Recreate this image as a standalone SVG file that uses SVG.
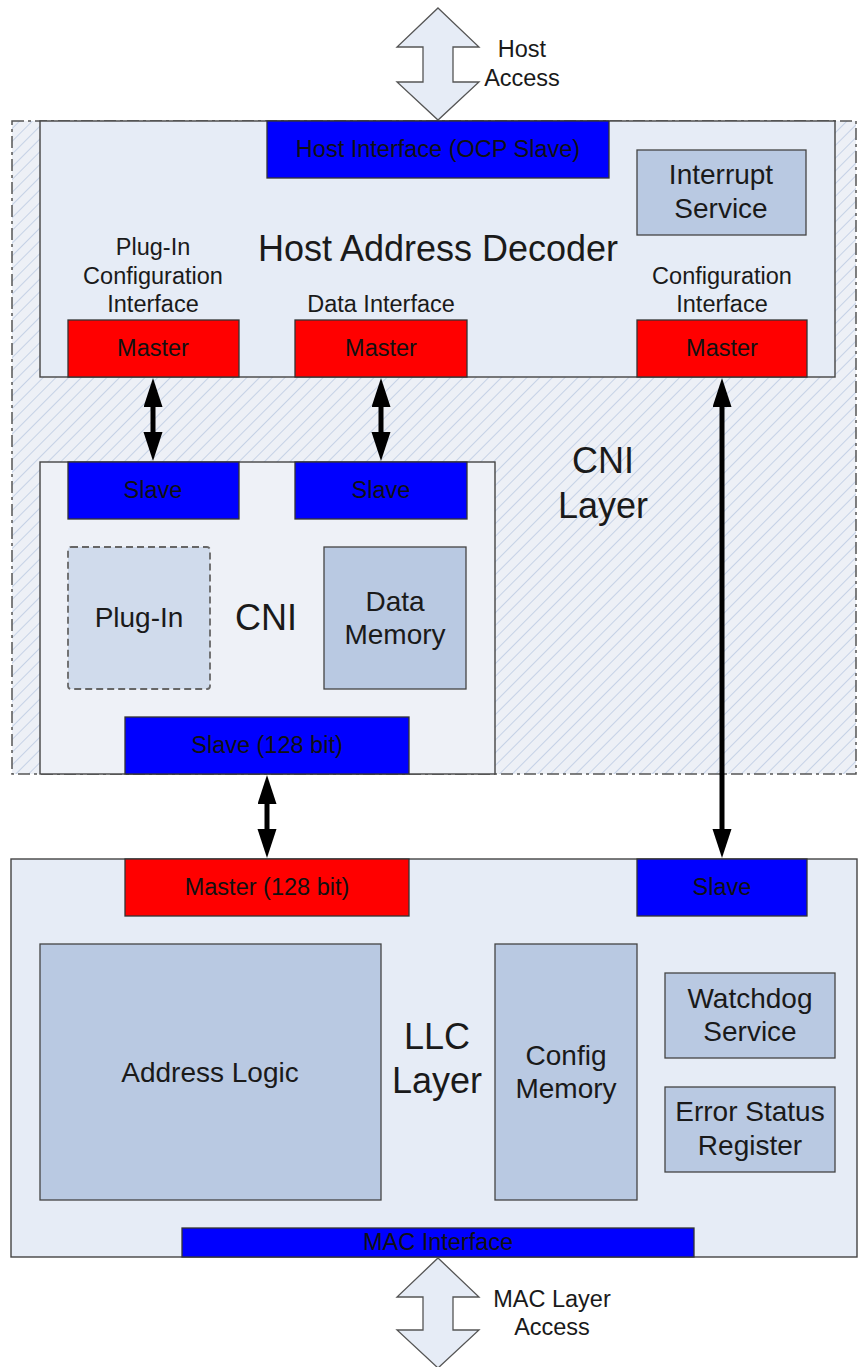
<svg xmlns="http://www.w3.org/2000/svg" width="858" height="1367" viewBox="0 0 858 1367">
  <style>
    text { font-family: "Liberation Sans", Arial, sans-serif; fill: #1a1a1a; text-anchor: middle; dominant-baseline: central; }
    .lbl { font-size: 23.5px; }
    .big { font-size: 36px; }
    .mid { font-size: 28px; }
    .port { font-size: 23.5px; fill: #111; }
    .master { fill: #ff0000; stroke: #333; stroke-width: 1.3; }
    .slave { fill: #0000ff; stroke: #333; stroke-width: 1.3; }
    .frame { fill: #e6ecf6; stroke: #444; stroke-width: 1.4; }
    .inner { fill: #b9c9e2; stroke: #444; stroke-width: 1.3; }
    .cnibox { fill: #eef1f7; stroke: #444; stroke-width: 1.4; }
    .block { fill: #e6ecf6; stroke: #555; stroke-width: 1.3; }
    .link { stroke: #000; stroke-width: 5; fill: none; marker-start: url(#head); marker-end: url(#head); }
  </style>
  <defs>
    <pattern id="hatch" patternUnits="userSpaceOnUse" width="9" height="9" patternTransform="rotate(45)">
      <rect width="9" height="9" fill="#edf0f6"/>
      <line x1="0" y1="0" x2="0" y2="9" stroke="#bccbe3" stroke-width="1.6"/>
    </pattern>
    <marker id="head" markerUnits="userSpaceOnUse" markerWidth="30" markerHeight="20" refX="0" refY="9.5" orient="auto-start-reverse">
      <path d="M0,0 L29,9.5 L0,19 z" fill="#000"/>
    </marker>
  </defs>

  <!-- host access block arrow -->
  <g id="host-access">
    <polygon class="block" points="438,8 479,47 453,47 453,82 479,82 438,120 397,82 423,82 423,47 397,47"/>
    <text class="lbl" x="522" y="49">Host</text>
    <text class="lbl" x="522" y="78">Access</text>
  </g>

  <!-- CNI layer (hatched region) -->
  <g id="cni-layer">
    <rect x="12" y="121" width="844" height="653" fill="url(#hatch)" stroke="#555" stroke-width="1.5" stroke-dasharray="12,4,3,4"/>
    <text class="big" x="603" y="460">CNI</text>
    <text class="big" x="603" y="505">Layer</text>
  </g>

  <!-- host address decoder -->
  <g id="host-address-decoder">
    <rect class="frame" x="40" y="121" width="795" height="256"/>
    <text class="big" x="438" y="248">Host Address Decoder</text>
    <text class="lbl" x="153" y="247">Plug-In</text>
    <text class="lbl" x="153" y="276">Configuration</text>
    <text class="lbl" x="153" y="304">Interface</text>
    <text class="lbl" x="381" y="304">Data Interface</text>
    <text class="lbl" x="722" y="276">Configuration</text>
    <text class="lbl" x="722" y="304">Interface</text>
  </g>
  <g id="host-interface">
    <rect class="slave" x="267" y="121" width="342" height="57"/>
    <text class="port" x="438" y="149">Host Interface (OCP Slave)</text>
  </g>
  <g id="interrupt-service">
    <rect class="inner" x="637" y="150" width="169" height="85"/>
    <text class="mid" x="721" y="174">Interrupt</text>
    <text class="mid" x="721" y="208">Service</text>
  </g>
  <g id="plugin-config-master">
    <rect class="master" x="68" y="320" width="171" height="57"/>
    <text class="port" x="153" y="348">Master</text>
  </g>
  <g id="data-master">
    <rect class="master" x="295" y="320" width="172" height="57"/>
    <text class="port" x="381" y="348">Master</text>
  </g>
  <g id="config-master">
    <rect class="master" x="637" y="320" width="170" height="57"/>
    <text class="port" x="722" y="348">Master</text>
  </g>

  <!-- CNI -->
  <g id="cni">
    <rect class="cnibox" x="40" y="462" width="455" height="312"/>
    <text class="big" x="266" y="617">CNI</text>
  </g>
  <g id="plugin-slave">
    <rect class="slave" x="68" y="462" width="171" height="57"/>
    <text class="port" x="153" y="490">Slave</text>
  </g>
  <g id="data-slave">
    <rect class="slave" x="295" y="462" width="172" height="57"/>
    <text class="port" x="381" y="490">Slave</text>
  </g>
  <g id="plugin">
    <rect x="68" y="547" width="142" height="142" rx="3" fill="#d0dbec" stroke="#666" stroke-width="1.8" stroke-dasharray="7,4"/>
    <text class="mid" x="139" y="617">Plug-In</text>
  </g>
  <g id="data-memory">
    <rect class="inner" x="324" y="547" width="142" height="142"/>
    <text class="mid" x="395" y="601">Data</text>
    <text class="mid" x="395" y="634">Memory</text>
  </g>
  <g id="cni-slave-128">
    <rect class="slave" x="125" y="717" width="284" height="57"/>
    <text class="port" x="267" y="745">Slave (128 bit)</text>
  </g>

  <!-- LLC layer -->
  <g id="llc-layer">
    <rect class="frame" x="11" y="859" width="846" height="398"/>
    <text class="big" x="437" y="1036">LLC</text>
    <text class="big" x="437" y="1080">Layer</text>
  </g>
  <g id="llc-master-128">
    <rect class="master" x="125" y="859" width="284" height="57"/>
    <text class="port" x="267" y="887">Master (128 bit)</text>
  </g>
  <g id="llc-slave">
    <rect class="slave" x="637" y="859" width="170" height="57"/>
    <text class="port" x="722" y="887">Slave</text>
  </g>
  <g id="address-logic">
    <rect class="inner" x="40" y="944" width="341" height="256"/>
    <text class="mid" x="210" y="1072">Address Logic</text>
  </g>
  <g id="config-memory">
    <rect class="inner" x="495" y="944" width="142" height="256"/>
    <text class="mid" x="566" y="1055">Config</text>
    <text class="mid" x="566" y="1088">Memory</text>
  </g>
  <g id="watchdog-service">
    <rect class="inner" x="665" y="973" width="170" height="85"/>
    <text class="mid" x="750" y="998">Watchdog</text>
    <text class="mid" x="750" y="1031">Service</text>
  </g>
  <g id="error-status-register">
    <rect class="inner" x="665" y="1087" width="170" height="85"/>
    <text class="mid" x="750" y="1111">Error Status</text>
    <text class="mid" x="750" y="1145">Register</text>
  </g>
  <g id="mac-interface">
    <rect class="slave" x="182" y="1228" width="512" height="29"/>
    <text class="port" x="438" y="1242">MAC Interface</text>
  </g>

  <!-- MAC layer access block arrow -->
  <g id="mac-access">
    <polygon class="block" points="438,1258 479,1297 453,1297 453,1330 479,1330 438,1368 397,1330 423,1330 423,1297 397,1297"/>
    <text class="lbl" x="552" y="1299">MAC Layer</text>
    <text class="lbl" x="552" y="1327">Access</text>
  </g>

  <!-- bus connections -->
  <g id="connectors">
    <line class="link" x1="153" y1="407" x2="153" y2="432"/>
    <line class="link" x1="381" y1="407" x2="381" y2="432"/>
    <line class="link" x1="722" y1="407" x2="722" y2="829"/>
    <line class="link" x1="267" y1="804" x2="267" y2="829"/>
  </g>
</svg>
